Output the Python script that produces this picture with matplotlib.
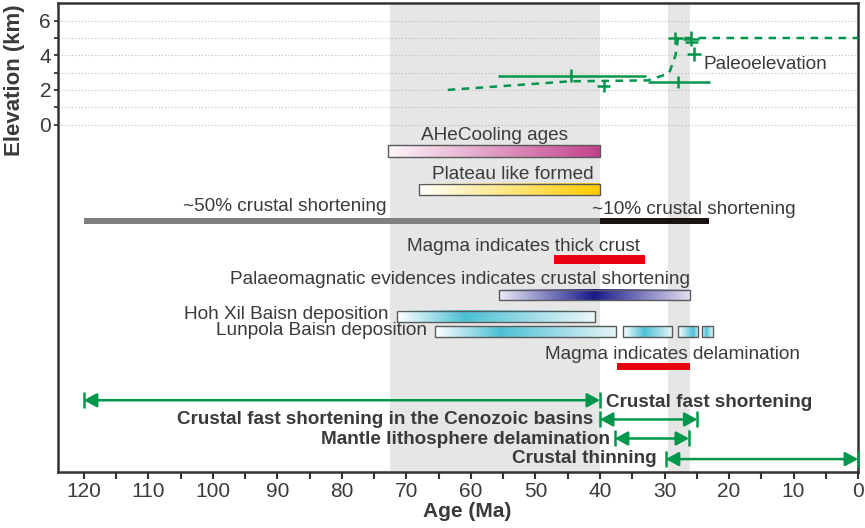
import numpy as np
import matplotlib
matplotlib.use("Agg")
import matplotlib.pyplot as plt
from matplotlib.colors import LinearSegmentedColormap
from matplotlib.patches import Rectangle

plt.rcParams['font.family'] = ['Liberation Sans', 'DejaVu Sans']

# ages in Ma, elevations in km
bands = [(72.5, 40.0), (29.5, 26.0)]

paleo_line_age = [63.6, 44.5, 32.6, 29.3, 28.3, 27.9, 0.0]
paleo_line_elev = [2.0, 2.5, 2.55, 2.95, 4.0, 5.0, 5.0]
paleo_age = [44.5, 39.4, 27.9, 28.3, 25.9, 25.8, 25.4]
paleo_elev = [2.83, 2.25, 2.48, 5.0, 4.95, 4.75, 4.06]
paleo_err_old = [11.3, 1.0, 4.7, 1.1, 1.2, 1.0, 1.1]
paleo_err_young = [11.7, 1.0, 5.0, 1.1, 1.2, 1.0, 1.1]
paleo_yerr = [0.36, 0.35, 0.35, 0.33, 0.43, 0.0, 0.4]

ahe_span = (72.8, 40.0)
plateau_span = (68.0, 40.0)
short50_span = (120.0, 40.0)
short10_span = (40.0, 23.1)
magma_thick_span = (47.2, 33.1)
palaeomag_span = (55.6, 26.1)
palaeomag_peak = 40.9
hohxil_span = (71.5, 40.8)
hohxil_peak = 61.0
lunpola_spans = [(65.6, 37.5), (36.4, 28.9), (27.9, 24.8), (24.2, 22.5)]
lunpola_peaks = [55.6, 33.1, 25.6, 23.6]
magma_delam_span = (37.3, 26.0)

arrow_spans = [(120.0, 40.0), (40.0, 24.9), (37.7, 26.2), (29.8, 0.0)]
arrow_labels = ['Crustal fast shortening',
                'Crustal fast shortening in the Cenozoic basins',
                'Mantle lithosphere delamination',
                'Crustal thinning']

green = '#00964b'
red = '#e60012'
txt = '#3a3a3a'
fs = 13.7
fsb = 13.6

fig = plt.figure(figsize=(8.65, 5.28), dpi=100)
ax = fig.add_axes([0.0671, 0.1066, 0.9249, 0.887])

for a0, a1 in bands:
    ax.axvspan(a0, a1, color='#e6e6e6', lw=0, zorder=0)
ax.hlines(range(0, 7), 124, 0, colors='#bbbbbb', linestyles=(0, (1, 2)), lw=0.8, zorder=1)


def grad_bar(x0, x1, y0, y1, colors, stops):
    cmap = LinearSegmentedColormap.from_list('g', list(zip(stops, colors)))
    ax.imshow(np.linspace(0, 1, 256)[None, :], extent=[x0, x1, y0, y1], aspect='auto',
              cmap=cmap, interpolation='bilinear', zorder=3)
    ax.add_patch(Rectangle((x1, y0), x0 - x1, y1 - y0, fill=False, ec='#5a5a5a', lw=1.0, zorder=4))


def peak_stop(span, peak):
    return (span[0] - peak) / (span[0] - span[1])


# paleoelevation
ax.plot(paleo_line_age, paleo_line_elev, color=green, lw=1.8, ls=(0, (3, 2.6)), zorder=5)
ax.errorbar(paleo_age, paleo_elev, xerr=[paleo_err_young, paleo_err_old], yerr=paleo_yerr,
            fmt='none', ecolor=green, elinewidth=1.8, capsize=0, zorder=6)
ax.text(23.9, 3.21, 'Paleoelevation', fontsize=fs, color=txt, va='baseline', ha='left')

# AHe cooling
grad_bar(*ahe_span, -1.88, -1.21, ['#fdf6fa', '#c3418c'], [0, 1])
ax.text(sum(ahe_span) / 2, -0.92, 'AHeCooling ages', fontsize=fs, color=txt, ha='center', va='baseline')

# plateau
grad_bar(*plateau_span, -4.1, -3.42, ['#ffffff', '#ffcc00'], [0, 1])
ax.text(53.5, -3.17, 'Plateau like formed', fontsize=fs, color=txt, ha='center', va='baseline')

# crustal shortening bars
ax.fill_between(short50_span, -5.77, -5.38, color='#808080', lw=0, zorder=3)
ax.fill_between(short10_span, -5.77, -5.38, color='#1a1311', lw=0, zorder=3)
ax.text(104.6, -5.0, '~50% crustal shortening', fontsize=fs, color=txt, ha='left', va='baseline')
ax.text(41.3, -5.19, '~10% crustal shortening', fontsize=fs, color=txt, ha='left', va='baseline')

# magma thick crust
ax.fill_between(magma_thick_span, -8.08, -7.52, color=red, lw=0, zorder=3)
ax.text(69.9, -7.31, 'Magma indicates thick crust', fontsize=fs, color=txt, ha='left', va='baseline')

# palaeomagnetic
grad_bar(*palaeomag_span, -10.12, -9.54, ['#ebebf8', '#1a1a8a', '#e2def2'],
         [0, peak_stop(palaeomag_span, palaeomag_peak), 1])
ax.text(palaeomag_span[1], -9.19, 'Palaeomagnatic evidences indicates crustal shortening',
        fontsize=fs, color=txt, ha='right', va='baseline')

# Hoh Xil
grad_bar(*hohxil_span, -11.41, -10.77, ['#ffffff', '#4cc0d4', '#eef8fa'],
         [0, peak_stop(hohxil_span, hohxil_peak), 1])
ax.text(72.8, -11.21, 'Hoh Xil Baisn deposition', fontsize=fs, color=txt, ha='right', va='baseline')

# Lunpola
for span, pk in zip(lunpola_spans, lunpola_peaks):
    grad_bar(*span, -12.27, -11.66, ['#ffffff', '#4cc0d4', '#e6f5f8'], [0, peak_stop(span, pk), 1])
ax.text(66.8, -12.17, 'Lunpola Baisn deposition', fontsize=fs, color=txt, ha='right', va='baseline')

# magma delamination
ax.fill_between(magma_delam_span, -14.19, -13.75, color=red, lw=0, zorder=3)
ax.text(48.6, -13.52, 'Magma indicates delamination', fontsize=fs, color=txt, ha='left', va='baseline')

# arrows
arrow_y = [-15.93, -17.04, -18.14, -19.33]
label_x = [39.0, 41.1, 38.5, 31.2]
label_y = [-16.31, -17.33, -18.43, -19.55]
label_ha = ['left', 'right', 'right', 'right']
for (a0, a1), y, lab, lx, ly, ha in zip(arrow_spans, arrow_y, arrow_labels, label_x, label_y, label_ha):
    ax.annotate('', xy=(a1, y), xytext=(a0, y),
                arrowprops=dict(arrowstyle='<|-|>,head_length=0.55,head_width=0.3', color=green,
                                lw=1.8, shrinkA=0, shrinkB=0, mutation_scale=14),
                zorder=5, annotation_clip=False)
    ax.plot([a0, a1], [y, y], ls='none', marker='|', ms=11, mew=1.8, color=green, zorder=5, clip_on=False)
    ax.text(lx, ly, lab, fontsize=fsb, fontweight='bold', color=txt, ha=ha, va='baseline')

ax.set_xlim(124, 0)
ax.set_ylim(-20.06, 7)

ax.set_xticks(np.arange(0, 121, 10))
ax.set_xticks(np.arange(5, 121, 10), minor=True)
ax.set_yticks([0, 2, 4, 6])
ax.set_yticks([1, 3, 5], minor=True)
ax.tick_params(axis='x', which='both', direction='out', length=5, width=1.5, colors='#333333',
               labelsize=15, pad=2.5, labelcolor=txt)
ax.tick_params(axis='y', which='both', direction='out', length=3, width=1.3, colors='#333333',
               labelsize=15, pad=2, labelcolor=txt)
for s in ax.spines.values():
    s.set_linewidth(1.8)
    s.set_color('#333333')

ax.set_ylabel('Elevation (km)', fontsize=16, fontweight='bold', color=txt, va='center')
ax.yaxis.set_label_coords(-0.055, 0.836)
ax.set_xlabel('Age (Ma)', fontsize=15, fontweight='bold', color=txt, va='top')
ax.xaxis.set_label_coords(0.511, -0.064)

fig.savefig('out.png', dpi=100)
